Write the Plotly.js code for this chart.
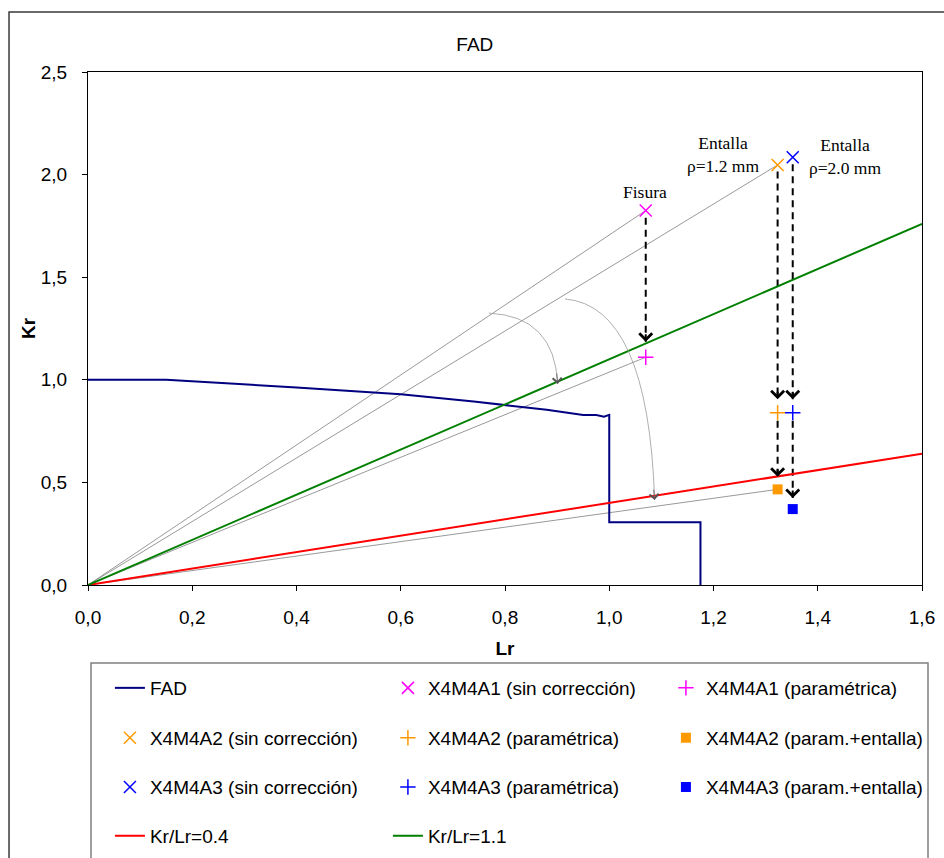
<!DOCTYPE html>
<html>
<head>
<meta charset="utf-8">
<script src="https://cdn.plot.ly/plotly-3.0.1.min.js"></script>
<style>html,body{margin:0;padding:0;background:#fff;}#chart{width:944px;height:858px;}</style>
</head>
<body>
<div id="chart"></div>
<script>
// ---- Data ----
var fadLr = [0, 0.15, 0.40, 0.60, 0.74, 0.81, 0.88, 0.95, 0.975, 0.99, 0.998, 1.0, 1.0, 1.175, 1.175];
var fadKr = [1.0, 1.0, 0.963, 0.930, 0.894, 0.873, 0.854, 0.829, 0.828, 0.820, 0.829, 0.829, 0.306, 0.306, 0];

var a1SinLr = [1.07],  a1SinKr = [1.825];
var a1ParLr = [1.07],  a1ParKr = [1.11];
var a2SinLr = [1.323], a2SinKr = [2.047];
var a2ParLr = [1.323], a2ParKr = [0.840];
var a2EntLr = [1.323], a2EntKr = [0.466];
var a3SinLr = [1.352], a3SinKr = [2.085];
var a3ParLr = [1.352], a3ParKr = [0.840];
var a3EntLr = [1.352], a3EntKr = [0.370];

var line04Lr = [0, 1.6], line04Kr = [0, 0.64];
var line11Lr = [0, 1.6], line11Kr = [0, 1.76];

// dashed vertical arrows: [x, yStart, yTip]
var dashArrowLr    = [1.07, 1.323, 1.323, 1.352, 1.352];
var dashArrowStart = [1.79, 2.015, 0.80, 2.05, 0.80];
var dashArrowTip   = [1.185, 0.905, 0.528, 0.905, 0.424];

// curved grey arrows (quadratic): start, control, end
var arcStartLr = [0.769, 0.915], arcStartKr = [1.325, 1.394];
var arcCtrlLr  = [0.895, 1.075], arcCtrlKr  = [1.31, 1.36];
var arcEndLr   = [0.901, 1.087], arcEndKr   = [0.98, 0.414];

var labelTexts = ['Fisura', 'Entalla<br>\u03c1=1.2 mm', 'Entalla<br>\u03c1=2.0 mm'];
var labelLr = [1.068, 1.219, 1.453];
var labelKr = [1.917, 2.10, 2.088];

var legendNames = ['FAD', 'X4M4A1 (sin corrección)', 'X4M4A1 (paramétrica)',
  'X4M4A2 (sin corrección)', 'X4M4A2 (paramétrica)', 'X4M4A2 (param.+entalla)',
  'X4M4A3 (sin corrección)', 'X4M4A3 (paramétrica)', 'X4M4A3 (param.+entalla)',
  'Kr/Lr=0.4', 'Kr/Lr=1.1'];

// ---- Styles ----
var MAG = '#FF00FF', ORA = '#FF9900', BLU = '#0000FF';
var FONT = 'Liberation Sans, Arial, sans-serif';
var SERIF = 'Liberation Serif, Times New Roman, serif';

var traces = [];
// grey rays from origin
[[a1SinLr, a1SinKr], [a2SinLr, a2SinKr], [a1ParLr, a1ParKr], [a2EntLr, a2EntKr]].forEach(function (p) {
  traces.push({x: [0, p[0][0]], y: [0, p[1][0]], mode: 'lines', showlegend: false, hoverinfo: 'skip',
    line: {color: '#7f7f7f', width: 0.8}});
});
// dashed arrows shafts
var dx = [], dy = [];
for (var i = 0; i < dashArrowLr.length; i++) {
  dx.push(dashArrowLr[i], dashArrowLr[i], null);
  dy.push(dashArrowStart[i], dashArrowTip[i], null);
}
traces.push({x: dx, y: dy, mode: 'lines', showlegend: false, hoverinfo: 'skip',
  line: {color: '#000', width: 2, dash: '7px,5px'}});

function mk(name, x, y, sym, col, size, lw, leg) {
  return {x: x, y: y, name: name, mode: 'markers', legend: leg,
    marker: {symbol: sym, color: col, size: size, line: {color: col, width: lw}}};
}
traces.push({x: fadLr, y: fadKr, name: legendNames[0], mode: 'lines', legend: 'legend',
  line: {color: '#000080', width: 2}});
traces.push(mk(legendNames[1], a1SinLr, a1SinKr, 'x-thin', MAG, 12, 1.5, 'legend'));
traces.push(mk(legendNames[2], a1ParLr, a1ParKr, 'cross-thin', MAG, 11, 1.5, 'legend'));
traces.push(mk(legendNames[3], a2SinLr, a2SinKr, 'x-thin', ORA, 12, 1.5, 'legend2'));
traces.push(mk(legendNames[4], a2ParLr, a2ParKr, 'cross-thin', ORA, 11, 1.5, 'legend2'));
traces.push(mk(legendNames[5], a2EntLr, a2EntKr, 'square', ORA, 10, 0, 'legend2'));
traces.push(mk(legendNames[6], a3SinLr, a3SinKr, 'x-thin', BLU, 12, 1.5, 'legend3'));
traces.push(mk(legendNames[7], a3ParLr, a3ParKr, 'cross-thin', BLU, 11, 1.5, 'legend3'));
traces.push(mk(legendNames[8], a3EntLr, a3EntKr, 'square', BLU, 10, 0, 'legend3'));
traces.push({x: line04Lr, y: line04Kr, name: legendNames[9], mode: 'lines', legend: 'legend4',
  line: {color: '#FF0000', width: 2}});
traces.push({x: line11Lr, y: line11Kr, name: legendNames[10], mode: 'lines', legend: 'legend4',
  line: {color: '#008000', width: 2}});

// ---- Annotations ----
var annotations = [];
for (var j = 0; j < dashArrowLr.length; j++) {
  annotations.push({x: dashArrowLr[j], y: dashArrowTip[j], xref: 'x', yref: 'y', text: '',
    showarrow: true, ax: 0, ay: -9, arrowhead: 4, arrowsize: 1.25, arrowwidth: 2, arrowcolor: '#000'});
}
for (var k = 0; k < arcEndLr.length; k++) {
  annotations.push({x: arcEndLr[k], y: arcEndKr[k], xref: 'x', yref: 'y', text: '',
    showarrow: true, ax: -1, ay: -12, arrowhead: 4, arrowsize: 2.2, arrowwidth: 0.8, arrowcolor: '#555'});
}
for (var m = 0; m < labelTexts.length; m++) {
  annotations.push({x: labelLr[m], y: labelKr[m], xref: 'x', yref: 'y', text: labelTexts[m],
    showarrow: false, align: 'center', font: {family: SERIF, size: 17.5, color: '#000'}});
}

var shapes = [];
for (var n = 0; n < arcStartLr.length; n++) {
  shapes.push({type: 'path', xref: 'x', yref: 'y',
    path: 'M' + arcStartLr[n] + ',' + arcStartKr[n] + ' Q' + arcCtrlLr[n] + ',' + arcCtrlKr[n] + ' ' + arcEndLr[n] + ',' + arcEndKr[n],
    line: {color: '#9a9a9a', width: 0.8}});
}
// outer frame and legend box
shapes.push({type: 'rect', xref: 'paper', yref: 'paper', x0: -0.0947, x1: 1.2, y0: -1, y1: 1.117,
  line: {color: '#3a3a3a', width: 1.5}, layer: 'below'});
shapes.push({type: 'rect', xref: 'paper', yref: 'paper', x0: 0.0036, x1: 1.0072, y0: -1, y1: -0.152,
  line: {color: '#808080', width: 1.5}, layer: 'below'});

function legendRow(y) {
  return {orientation: 'h', x: -0.0001, xanchor: 'left', y: y, yanchor: 'middle',
    entrywidth: 233, entrywidthmode: 'pixels', bgcolor: 'rgba(0,0,0,0)',
    borderwidth: 22, bordercolor: 'rgba(0,0,0,0)',
    font: {family: FONT, size: 19, color: '#000'}};
}

var layout = {
  width: 944, height: 858,
  margin: {l: 88, r: 22, t: 72, b: 273, autoexpand: false},
  paper_bgcolor: '#fff', plot_bgcolor: '#fff',
  separators: ',.',
  font: {family: FONT, size: 19, color: '#000'},
  title: {text: 'FAD', x: 0.503, xref: 'container', xanchor: 'center', y: 0.9487, yref: 'container', yanchor: 'middle',
    font: {family: FONT, size: 19, color: '#000'}},
  xaxis: {range: [0, 1.6], dtick: 0.2, tick0: 0, tickformat: '.1f', showgrid: false, zeroline: false,
    showline: true, linecolor: '#000', linewidth: 1, mirror: true, ticks: 'outside', ticklen: 5, tickcolor: '#000',
    ticklabelstandoff: 10,
    title: {text: '<b>Lr</b>', standoff: 14, font: {family: FONT, size: 19}}},
  yaxis: {range: [0, 2.5], dtick: 0.5, tick0: 0, tickformat: '.1f', showgrid: false, zeroline: false,
    showline: true, linecolor: '#000', linewidth: 1, mirror: true, ticks: 'outside', ticklen: 5, tickcolor: '#000',
    ticklabelstandoff: 11,
    title: {text: '<b>Kr</b>', standoff: 0, font: {family: FONT, size: 19}}},
  showlegend: true,
  legend: legendRow(-0.2008),
  legend2: legendRow(-0.298),
  legend3: legendRow(-0.394),
  legend4: legendRow(-0.489),
  annotations: annotations,
  shapes: shapes
};

Plotly.newPlot('chart', traces, layout, {displayModeBar: false, staticPlot: true});
</script>
</body>
</html>
